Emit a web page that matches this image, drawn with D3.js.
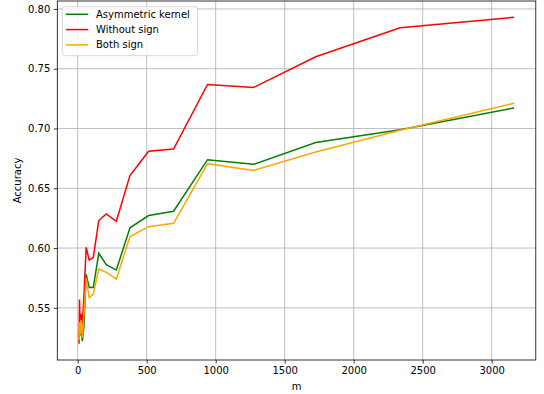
<!DOCTYPE html>
<html>
<head>
<meta charset="utf-8">
<script src="https://cdn.jsdelivr.net/npm/d3@7"></script>
<style>
body { margin: 0; background: white; }
text { font-family: "DejaVu Sans", sans-serif; }
</style>
</head>
<body>
<svg id="svg1" width="544" height="394"></svg>
<script>
var mValues = [10, 13.5, 18.3, 24.8, 33.6, 45.5, 61.6, 83.4, 113, 153, 207, 280, 379, 514, 695, 941, 1274, 1725, 2336, 3162];

var asymKernel = [0.525, 0.530, 0.527, 0.535, 0.522, 0.535, 0.578, 0.567, 0.567, 0.5956, 0.5861, 0.5816, 0.6169, 0.6272, 0.6308, 0.6739, 0.6700, 0.6882, 0.6990, 0.7172];
var withoutSign = [0.520, 0.557, 0.530, 0.545, 0.536, 0.560, 0.6006, 0.590, 0.592, 0.623, 0.6286, 0.6224, 0.6607, 0.681, 0.6828, 0.7368, 0.7343, 0.7600, 0.7843, 0.7930];
var bothSign = [0.523, 0.538, 0.528, 0.540, 0.525, 0.545, 0.575, 0.5586, 0.5615, 0.5825, 0.5796, 0.5740, 0.6096, 0.6179, 0.6207, 0.6706, 0.6649, 0.6803, 0.6985, 0.7211];

var seriesNames = ['Asymmetric kernel', 'Without sign', 'Both sign'];
var seriesColors = ['green', 'red', 'orange'];
var seriesValues = [asymKernel, withoutSign, bothSign];

var xTicks = [0, 500, 1000, 1500, 2000, 2500, 3000];
var yTicks = [0.55, 0.60, 0.65, 0.70, 0.75, 0.80];

// plot area (note: 'top' is taken by window.top)
var plotLeft = 57.3, plotRight = 535.8, plotTop = 1, plotBottom = 360;

var svg1 = d3.select('#svg1');

// matplotlib style 5% margins
function padded(ext) {
    var p = (ext[1] - ext[0]) * 0.05;
    return [ext[0] - p, ext[1] + p];
}
var allY = [].concat(asymKernel, withoutSign, bothSign);

var x = d3.scaleLinear()
    .domain(padded(d3.extent(mValues)))
    .range([plotLeft, plotRight]);

var y = d3.scaleLinear()
    .domain(padded(d3.extent(allY)))
    .range([plotBottom, plotTop]);

// grid
svg1.append('g').selectAll('line')
    .data(xTicks)
    .enter()
    .append('line')
    .attr('x1', function(d){ return x(d); })
    .attr('x2', function(d){ return x(d); })
    .attr('y1', plotTop)
    .attr('y2', plotBottom)
    .attr('stroke', '#b0b0b0')
    .attr('stroke-width', 0.8);

svg1.append('g').selectAll('line')
    .data(yTicks)
    .enter()
    .append('line')
    .attr('x1', plotLeft)
    .attr('x2', plotRight)
    .attr('y1', function(d){ return y(d); })
    .attr('y2', function(d){ return y(d); })
    .attr('stroke', '#b0b0b0')
    .attr('stroke-width', 0.8);

// lines
var line = d3.line()
    .x(function(d, i){ return x(mValues[i]); })
    .y(function(d){ return y(d); });

svg1.append('g').selectAll('path')
    .data(seriesValues)
    .enter()
    .append('path')
    .attr('d', line)
    .attr('fill', 'none')
    .attr('stroke', function(d, i){ return seriesColors[i]; })
    .attr('stroke-width', 1.5)
    .attr('stroke-linejoin', 'miter');

// axes
var xAxis = d3.axisBottom(x)
    .tickValues(xTicks)
    .tickSize(3.5)
    .tickPadding(3.5)
    .tickFormat(d3.format('d'));

var yAxis = d3.axisLeft(y)
    .tickValues(yTicks)
    .tickSize(3.5)
    .tickPadding(3.5)
    .tickFormat(d3.format('.2f'));

var gx = svg1.append('g')
    .attr('transform', 'translate(0,' + plotBottom + ')')
    .call(xAxis);
var gy = svg1.append('g')
    .attr('transform', 'translate(' + plotLeft + ',0)')
    .call(yAxis);

[gx, gy].forEach(function(g){
    g.select('.domain').remove();
    g.selectAll('line').attr('stroke', 'black').attr('stroke-width', 0.8);
    g.selectAll('text')
        .attr('font-size', 10)
        .attr('fill', 'black')
        .style('font-family', '"DejaVu Sans", sans-serif');
});

// frame
svg1.append('rect')
    .attr('x', plotLeft)
    .attr('y', plotTop)
    .attr('width', plotRight - plotLeft)
    .attr('height', plotBottom - plotTop)
    .attr('fill', 'none')
    .attr('stroke', 'black')
    .attr('stroke-width', 0.8);

// axis labels
svg1.append('text')
    .attr('x', (plotLeft + plotRight) / 2)
    .attr('y', 390)
    .attr('text-anchor', 'middle')
    .attr('font-size', 10)
    .text('m');

svg1.append('text')
    .attr('transform', 'translate(21,' + (plotTop + plotBottom) / 2 + ') rotate(-90)')
    .attr('text-anchor', 'middle')
    .attr('font-size', 10)
    .text('Accuracy');

// legend
var legend = svg1.append('g');
legend.append('rect')
    .attr('x', 62.3)
    .attr('y', 6.7)
    .attr('width', 135.4)
    .attr('height', 49)
    .attr('rx', 2.5)
    .attr('fill', 'white')
    .attr('fill-opacity', 0.8)
    .attr('stroke', '#cccccc')
    .attr('stroke-width', 0.8);

var rows = legend.selectAll('.row')
    .data(seriesNames)
    .enter()
    .append('g')
    .attr('class', 'row')
    .attr('transform', function(d, i){ return 'translate(0,' + (14.3 + i * 15.3) + ')'; });

rows.append('line')
    .attr('x1', 66)
    .attr('x2', 88.3)
    .attr('stroke', function(d, i){ return seriesColors[i]; })
    .attr('stroke-width', 1.5);

rows.append('text')
    .attr('x', 96)
    .attr('dy', '0.35em')
    .attr('font-size', 10)
    .text(function(d){ return d; });
</script>
</body>
</html>
